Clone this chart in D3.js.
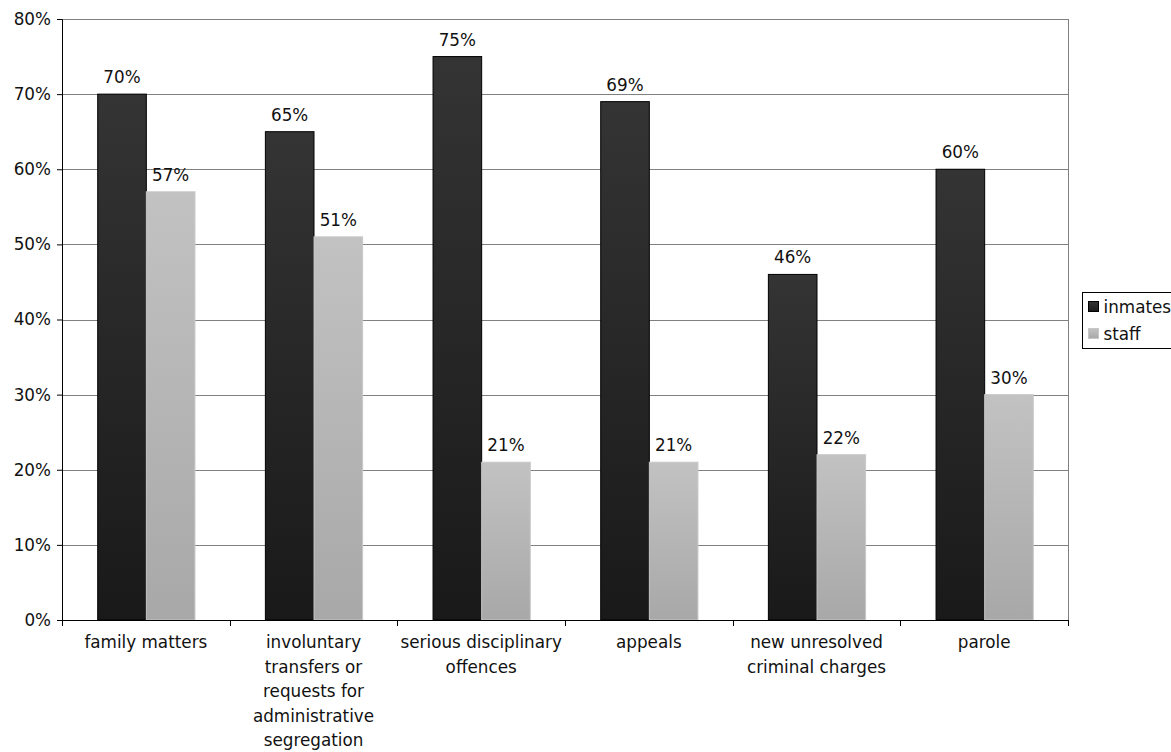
<!DOCTYPE html>
<html>
<head>
<meta charset="utf-8">
<script src="https://cdn.jsdelivr.net/npm/d3@7"></script>
<style>
  body { margin: 0; background: #fff; }
  text { font-family: "DejaVu Sans", Verdana, sans-serif; fill: #111; }
</style>
</head>
<body>
<script>
// Data
const categories = ["family matters", "involuntary transfers", "serious disciplinary", "appeals", "new unresolved", "parole"];
const categoryLines = [
  ["family matters"],
  ["involuntary", "transfers or", "requests for", "administrative", "segregation"],
  ["serious disciplinary", "offences"],
  ["appeals"],
  ["new unresolved", "criminal charges"],
  ["parole"]
];
const inmates = [70, 65, 75, 69, 46, 60];
const staff = [57, 51, 21, 21, 22, 30];
const seriesNames = ["inmates", "staff"];
const yTicks = [0, 10, 20, 30, 40, 50, 60, 70, 80];

const W = 1171, H = 752;
const margin = { top: 19, right: 103, bottom: 132, left: 62 };
const width = W - margin.left - margin.right,
      height = H - margin.top - margin.bottom;
const fs = "16.8px";

const svg = d3.select("body").append("svg")
    .attr("width", W)
    .attr("height", H);

const defs = svg.append("defs");
const grads = [["gInm", "#343434", "#191919"], ["gStf", "#c2c2c2", "#a8a8a8"]];
grads.forEach(([id, c1, c2]) => {
  const g = defs.append("linearGradient").attr("id", id)
    .attr("x1", 0).attr("y1", 0).attr("x2", 0).attr("y2", 1);
  g.append("stop").attr("offset", "0%").attr("stop-color", c1);
  g.append("stop").attr("offset", "100%").attr("stop-color", c2);
});

const g = svg.append("g").attr("transform", `translate(${margin.left},${margin.top})`);

// Scales
const x = d3.scaleBand().domain(categories).range([0, width]).padding(0);
const y = d3.scaleLinear().domain([0, 80]).range([height, 0]);
const bw = x.bandwidth() * 0.29;
const off = (x.bandwidth() - 2 * bw) / 2 + 0.5;

// Gridlines
g.append("g").selectAll("line").data(yTicks.filter(d => d > 0)).join("line")
  .attr("x1", 0).attr("x2", width)
  .attr("y1", d => Math.round(y(d)) + 0.5).attr("y2", d => Math.round(y(d)) + 0.5)
  .attr("stroke", "#808080").attr("stroke-width", 1);

// right border
g.append("line")
  .attr("x1", width + 0.5).attr("x2", width + 0.5)
  .attr("y1", 0).attr("y2", height)
  .attr("stroke", "#808080");

// Bars
const rows = categories.map((c, i) => ({ c, v: [inmates[i], staff[i]] }));
const grp = g.append("g").selectAll("g").data(rows).join("g")
  .attr("transform", d => `translate(${x(d.c) + off},0)`);

grp.append("rect")
  .attr("x", 0).attr("width", bw)
  .attr("y", d => y(d.v[0])).attr("height", d => height - y(d.v[0]))
  .attr("fill", "url(#gInm)").attr("stroke", "#000").attr("stroke-width", 1);

grp.append("rect")
  .attr("x", bw).attr("width", bw)
  .attr("y", d => y(d.v[1])).attr("height", d => height - y(d.v[1]))
  .attr("fill", "url(#gStf)").attr("stroke", "#c8c8c8").attr("stroke-width", 1);

// Value labels
[0, 1].forEach(s => {
  grp.append("text")
    .attr("x", bw * s + bw / 2)
    .attr("y", d => y(d.v[s]) - 11)
    .attr("text-anchor", "middle")
    .style("font-size", fs)
    .text(d => d.v[s] + "%");
});

// Y axis
const yAxis = g.append("g")
  .call(d3.axisLeft(y).tickValues(yTicks).tickFormat(d => d + "%").tickSize(5).tickPadding(6));
yAxis.select(".domain").attr("stroke", "#000");
yAxis.selectAll(".tick line").attr("stroke", "#000");
yAxis.selectAll("text").style("font-size", fs).style("font-family", null);

// X axis
const xAxis = g.append("g").attr("transform", `translate(0,${height})`);
xAxis.append("line").attr("x1", 0).attr("x2", width).attr("y1", 0.5).attr("y2", 0.5).attr("stroke", "#000");
xAxis.selectAll("line.tk").data(d3.range(categories.length + 1)).join("line")
  .attr("class", "tk")
  .attr("x1", i => Math.round(i * x.step()) + 0.5).attr("x2", i => Math.round(i * x.step()) + 0.5)
  .attr("y1", 0).attr("y2", 6).attr("stroke", "#000");

const lbl = xAxis.selectAll("text.cat").data(categories).join("text")
  .attr("class", "cat")
  .attr("text-anchor", "middle")
  .style("font-size", fs)
  .attr("transform", d => `translate(${x(d) + x.bandwidth() / 2},28)`);
lbl.selectAll("tspan").data((d, i) => categoryLines[i]).join("tspan")
  .attr("x", 0).attr("dy", (d, i) => i === 0 ? 0 : 24.5)
  .text(d => d);

// Legend
const leg = svg.append("g").attr("transform", "translate(1082.5,292.5)");
leg.append("rect").attr("width", 120).attr("height", 56)
  .attr("fill", "#fff").attr("stroke", "#000");
const fills = ["url(#gInm)", "url(#gStf)"];
const strokes = ["#000", "#c8c8c8"];
seriesNames.forEach((s, i) => {
  leg.append("rect").attr("x", 6).attr("y", 9 + i * 27).attr("width", 10).attr("height", 10)
    .attr("fill", fills[i]).attr("stroke", strokes[i]);
  leg.append("text").attr("x", 21).attr("y", 20 + i * 27)
    .style("font-size", fs).text(s);
});
</script>
</body>
</html>
